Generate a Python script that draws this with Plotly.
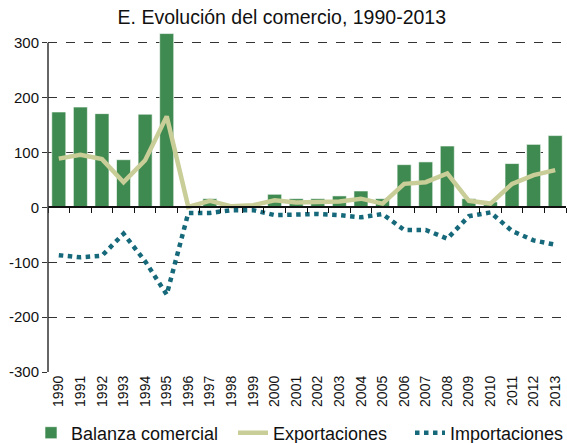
import plotly.graph_objects as go

years = [str(y) for y in range(1990, 2014)]
balanza = [174, 183, 171, 87, 170, 317, 0, 16, 2, 3, 24, 16,
           16, 21, 30, 16, 78, 83, 112, 16, 10, 80, 115, 131]
exportaciones = [89, 96, 88, 46, 86, 166, 1, 12, 2, 4, 13, 9,
                 10, 11, 16, 7, 43, 46, 62, 12, 7, 43, 59, 68]
importaciones = [-87, -91, -88, -48, -98, -159, -10, -10, -5, -5, -14, -13,
                 -12, -14, -18, -12, -41, -41, -57, -16, -9, -43, -60, -68]
ytick_vals = [-300, -200, -100, 0, 100, 200, 300]
ytick_text = [str(v) for v in ytick_vals]

GREEN = "#3f8a50"
KHAKI = "#c9cd97"
TEAL = "#16697a"
FONT = "Liberation Sans, Arial, sans-serif"
W, H = 567, 443

fig = go.Figure()
fig.add_trace(go.Bar(
    x=years, y=balanza, name="Balanza comercial", legend="legend",
    marker=dict(color=GREEN, line=dict(color="rgba(255,255,255,0.6)", width=1)),
))
fig.add_trace(go.Scatter(
    x=years, y=exportaciones, name="Exportaciones", mode="lines", legend="legend2",
    line=dict(color=KHAKI, width=4.5),
))
fig.add_trace(go.Scatter(
    x=years, y=importaciones, name="Importaciones", mode="lines", legend="legend3",
    line=dict(color=TEAL, width=4.5, dash="dot"),
    xaxis="x2",
))

# one legend per series, laid out in a row under the x labels
legend_style = dict(orientation="h", xref="container", yref="container",
                    xanchor="left", y=1 - 433 / H, yanchor="middle",
                    font=dict(size=18, color="#111"), itemwidth=30,
                    bgcolor="rgba(0,0,0,0)")

fig.update_layout(
    width=W, height=H,
    margin=dict(l=48, r=1, t=33, b=71),
    paper_bgcolor="white", plot_bgcolor="white",
    font=dict(family=FONT, size=15, color="#111"),
    title=dict(text="E. Evolución del comercio, 1990-2013", xref="container", x=0.497,
               xanchor="center", y=0.962, yanchor="middle",
               font=dict(size=19.5, color="#111")),
    bargap=0.35,
    showlegend=True,
    legend=dict(x=31 / W, **legend_style),
    legend2=dict(x=233 / W, **legend_style),
    legend3=dict(x=410 / W, **legend_style),
    xaxis=dict(
        type="category", categoryorder="array", categoryarray=years,
        tickangle=-90, showline=False, ticks="", showgrid=False,
        tickfont=dict(size=14), range=[-0.5, 23.5],
    ),
    xaxis2=dict(
        type="category", matches="x", overlaying="x", anchor="free", position=0.0,
        showline=True, linecolor="#111", linewidth=1.5,
        ticks="outside", ticklen=5, tickcolor="#111", tickwidth=1.2,
        tickson="boundaries", showticklabels=False, showgrid=False,
    ),
    yaxis=dict(
        range=[-300, 318], tickvals=ytick_vals, ticktext=ytick_text,
        showline=False,
        ticks="outside", ticklen=5, tickcolor="#333", tickwidth=1.2,
        showgrid=True, gridcolor="#333", griddash="dash", gridwidth=1,
        zeroline=False, tickfont=dict(size=15),
    ),
)

# category axis line sits on y = 0
yr = fig.layout.yaxis.range
fig.layout.xaxis2.position = (0 - yr[0]) / (yr[1] - yr[0])

# vertical axis line spanning the labelled range only
fig.add_shape(type="line", xref="paper", yref="y", x0=0, x1=0,
              y0=min(ytick_vals), y1=max(ytick_vals),
              line=dict(color="#333", width=1.5))

fig.write_html("out.html")
